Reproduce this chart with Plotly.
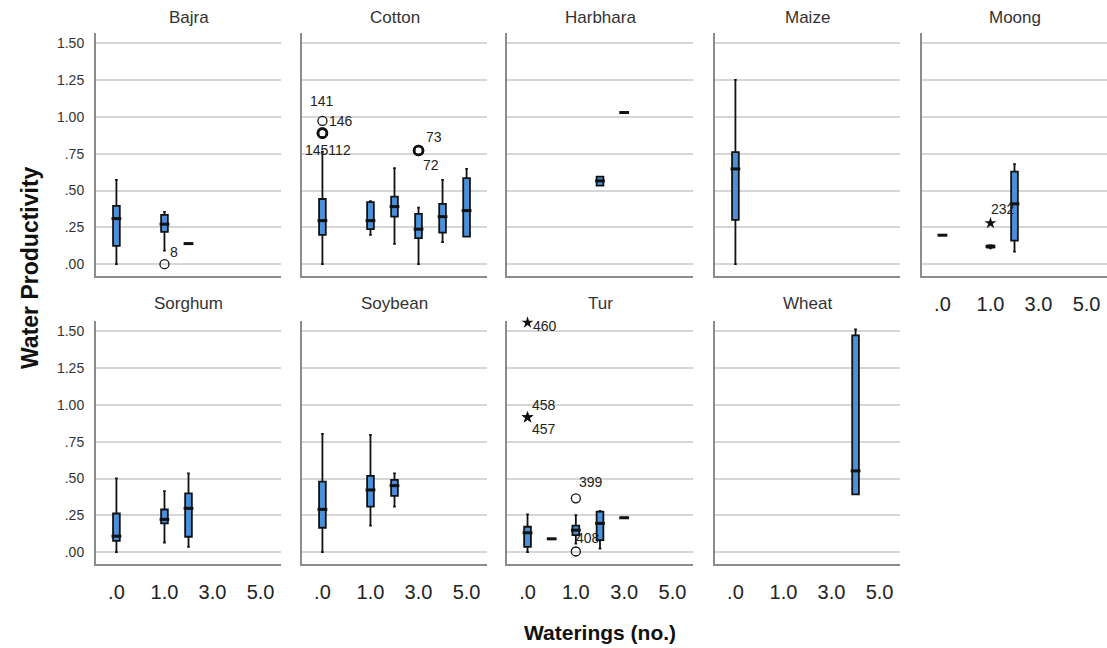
import plotly.graph_objects as go
from collections import Counter

# ---------------- data ----------------
crops = ["Bajra", "Cotton", "Harbhara", "Maize", "Moong",
         "Sorghum", "Soybean", "Tur", "Wheat"]
categories = [".0", ".5", "1.0", "2.0", "3.0", "4.0", "5.0"]
tick_labels = [".0", "1.0", "3.0", "5.0"]
y_ticks = [0.0, 0.25, 0.5, 0.75, 1.0, 1.25, 1.5]
y_tick_text = [".00", ".25", ".50", ".75", "1.00", "1.25", "1.50"]

box_crop = ["Bajra", "Bajra", "Bajra",
            "Cotton", "Cotton", "Cotton", "Cotton", "Cotton", "Cotton",
            "Harbhara", "Harbhara",
            "Maize",
            "Moong", "Moong", "Moong",
            "Sorghum", "Sorghum", "Sorghum",
            "Soybean", "Soybean", "Soybean",
            "Tur", "Tur", "Tur", "Tur", "Tur",
            "Wheat"]
box_cat = [".0", "1.0", "2.0",
           ".0", "1.0", "2.0", "3.0", "4.0", "5.0",
           "2.0", "3.0",
           ".0",
           ".0", "1.0", "2.0",
           ".0", "1.0", "2.0",
           ".0", "1.0", "2.0",
           ".0", ".5", "1.0", "2.0", "3.0",
           "4.0"]
box_lo = [0.000, 0.092, 0.140,
          0.000, 0.199, 0.138, 0.000, 0.150, 0.188,
          0.534, 1.030,
          0.000,
          0.197, 0.108, 0.086,
          0.000, 0.066, 0.036,
          0.000, 0.180, 0.309,
          0.000, 0.091, 0.059, 0.025, 0.234,
          0.393]
box_q1 = [0.124, 0.220, 0.140,
          0.199, 0.238, 0.323, 0.177, 0.215, 0.188,
          0.534, 1.030,
          0.301,
          0.197, 0.112, 0.160,
          0.077, 0.196, 0.105,
          0.166, 0.309, 0.382,
          0.036, 0.091, 0.116, 0.082, 0.234,
          0.393]
box_med = [0.310, 0.272, 0.140,
           0.296, 0.296, 0.391, 0.238, 0.323, 0.364,
           0.566, 1.030,
           0.647,
           0.197, 0.120, 0.410,
           0.109, 0.223, 0.298,
           0.291, 0.423, 0.452,
           0.132, 0.091, 0.150, 0.196, 0.234,
           0.552]
box_q3 = [0.396, 0.335, 0.140,
          0.443, 0.421, 0.459, 0.342, 0.410, 0.584,
          0.595, 1.030,
          0.761,
          0.197, 0.127, 0.629,
          0.263, 0.290, 0.400,
          0.479, 0.518, 0.491,
          0.173, 0.091, 0.180, 0.275, 0.234,
          1.472]
box_hi = [0.573, 0.355, 0.140,
          0.765, 0.428, 0.652, 0.384, 0.573, 0.647,
          0.595, 1.030,
          1.252,
          0.197, 0.130, 0.679,
          0.502, 0.415, 0.536,
          0.804, 0.797, 0.536,
          0.257, 0.091, 0.252, 0.280, 0.234,
          1.513]

out_crop = ["Bajra", "Cotton", "Cotton", "Cotton", "Cotton", "Cotton",
            "Moong", "Tur", "Tur", "Tur", "Tur", "Tur"]
out_cat = ["1.0", ".0", ".0", ".0", "3.0", "3.0",
           "1.0", ".0", ".0", ".0", "1.0", "1.0"]
out_val = [0.000, 0.973, 0.890, 0.890, 0.772, 0.772,
           0.279, 1.559, 0.916, 0.916, 0.366, 0.005]
out_kind = ["circle", "circle", "circle", "circle", "circle", "circle",
            "star", "star", "star", "star", "circle", "circle"]
out_case = ["8", "146", "141", "145112", "73", "72",
            "232", "460", "458", "457", "399", "408"]

# ---------------- style / layout ----------------
label_offsets = {"8": (10, 12), "146": (19, 0), "141": (0, 32), "145112": (6, -17),
                 "73": (15, 14), "72": (12, -14), "232": (13, 14), "460": (17, -3),
                 "458": (16, 12), "457": (16, -12), "399": (15, 16), "408": (12, 13)}

W, H = 1107, 648
col_px = [(96, 281), (302, 487), (507, 693), (715, 900), (922, 1107)]
row_px = [(33, 276), (321, 564)]
title_y_px = [17, 303]
y_range = [-0.08, 1.57]
x_range = [-0.85, 6.85]

FONT = "Liberation Sans, Arial, sans-serif"
BOX_FILL = "#4a90da"
INK = "#111111"

fig = go.Figure()
layout = dict(width=W, height=H, margin=dict(l=0, r=0, t=0, b=0),
              paper_bgcolor="white", plot_bgcolor="white",
              showlegend=False, boxmode="overlay", font=dict(family=FONT))
annotations = []

counts = Counter(zip(out_crop, out_cat, out_val))

for i, crop in enumerate(crops):
    r, c = divmod(i, 5)
    n = i + 1
    xa, ya = f"x{n}", f"y{n}"
    x0, x1 = col_px[c]
    top, bot = row_px[r]
    bottom_of_column = (r == 1) or (c == 4)

    layout[f"xaxis{n}"] = dict(
        domain=[x0 / W, min(x1 / W, 1.0)], anchor=ya, type="category",
        categoryorder="array", categoryarray=categories, range=x_range,
        tickmode="array", tickvals=tick_labels, ticktext=tick_labels,
        showticklabels=bottom_of_column, ticks="", ticklabelstandoff=9,
        tickfont=dict(size=20, color="#222222", family=FONT),
        showgrid=False, zeroline=False, showline=True,
        linecolor="#8c8c8c", linewidth=2, fixedrange=True)
    layout[f"yaxis{n}"] = dict(
        domain=[1 - bot / H, 1 - top / H], anchor=xa, range=y_range,
        tickmode="array", tickvals=y_ticks, ticktext=y_tick_text,
        showticklabels=(c == 0), ticks="", ticklabelstandoff=7,
        tickfont=dict(size=14, color="#333333", family=FONT),
        showgrid=True, gridcolor="#d6d6d6", gridwidth=2,
        zeroline=False, showline=True, linecolor="#8c8c8c", linewidth=2,
        fixedrange=True)

    idx = [k for k, b in enumerate(box_crop) if b == crop]
    cats = [box_cat[k] for k in idx]
    fig.add_trace(go.Box(
        x=cats, orientation="v",
        q1=[box_q1[k] for k in idx], median=[box_med[k] for k in idx],
        q3=[box_q3[k] for k in idx], lowerfence=[box_lo[k] for k in idx],
        upperfence=[box_hi[k] for k in idx],
        boxpoints=False, width=0.28, whiskerwidth=0.4,
        fillcolor=BOX_FILL, line=dict(color=INK, width=1.8),
        xaxis=xa, yaxis=ya, hoverinfo="skip"))
    # thick median bars
    fig.add_trace(go.Scatter(
        x=cats, y=[box_med[k] for k in idx], mode="markers",
        marker=dict(symbol="line-ew", size=7, color=INK,
                    line=dict(color=INK, width=3)),
        xaxis=xa, yaxis=ya, hoverinfo="skip", cliponaxis=False))

    oidx = [k for k, o in enumerate(out_crop) if o == crop]
    for k in oidx:
        dup = counts[(out_crop[k], out_cat[k], out_val[k])] > 1
        if out_kind[k] == "circle":
            marker = dict(symbol="circle-open", size=9, color=INK,
                          line=dict(color=INK, width=2.6 if dup else 1.3))
        else:
            marker = dict(symbol="star", size=9, color=INK,
                          line=dict(color=INK, width=0))
        fig.add_trace(go.Scatter(x=[out_cat[k]], y=[out_val[k]], mode="markers",
                                 marker=marker, xaxis=xa, yaxis=ya,
                                 hoverinfo="skip", cliponaxis=False))
        dx, dy = label_offsets[out_case[k]]
        annotations.append(dict(
            x=categories.index(out_cat[k]), y=out_val[k], xref=xa, yref=ya,
            text=out_case[k], showarrow=False, xshift=dx, yshift=dy,
            xanchor="center", yanchor="middle",
            font=dict(size=14, color="#222222", family=FONT)))

    annotations.append(dict(
        x=(x0 + x1) / 2 / W, y=1 - title_y_px[r] / H, xref="paper", yref="paper",
        text=crop, showarrow=False, xanchor="center", yanchor="middle",
        font=dict(size=17, color="#333333", family=FONT)))

annotations.append(dict(
    x=30 / W, y=1 - 268 / H, xref="paper", yref="paper",
    text="<b>Water Productivity</b>", textangle=-90, showarrow=False,
    xanchor="center", yanchor="middle",
    font=dict(size=23, color="#111111", family=FONT)))
annotations.append(dict(
    x=600 / W, y=1 - 632 / H, xref="paper", yref="paper",
    text="<b>Waterings (no.)</b>", showarrow=False,
    xanchor="center", yanchor="middle",
    font=dict(size=21, color="#111111", family=FONT)))

layout["annotations"] = annotations
fig.update_layout(**layout)
fig.write_html("out.html")
